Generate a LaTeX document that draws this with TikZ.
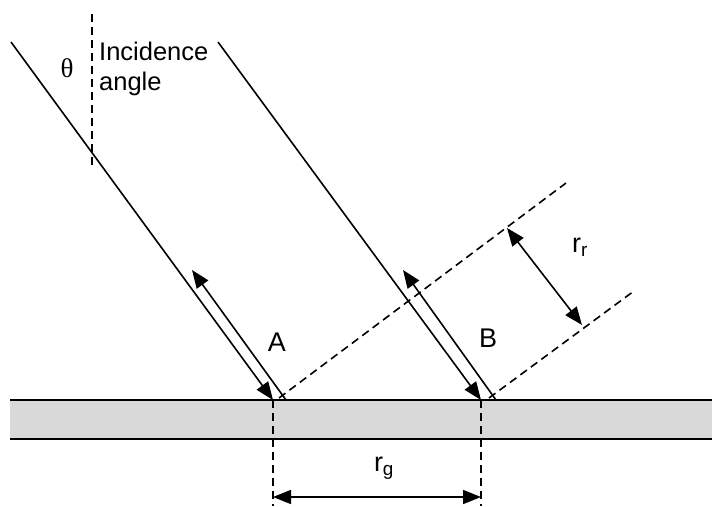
\documentclass[tikz,border=0pt]{standalone}
\usepackage{fontspec}
\setmainfont{Liberation Sans}
\newfontfamily\serifgreek{Liberation Serif}
\usetikzlibrary{arrows.meta}
\begin{document}
\begin{tikzpicture}[x=1pt,y=-1pt,
  ray/.style={line width=1.6pt,black},
  tip/.style={-{Triangle[length=18pt,width=14pt]}},
  dtip/.style={{Triangle[length=18pt,width=14pt]}-{Triangle[length=18pt,width=14pt]}},
  dash line/.style={line width=1.6pt,dash pattern=on 8pt off 5pt},
  lbl/.style={font=\fontsize{27}{30}\selectfont,inner sep=0pt}]
\useasboundingbox (0,0) rectangle (712,506);
% slab
\fill[gray!30] (10,400) rectangle (712,439);
\coordinate (sl1) at (10,400); \coordinate (sr1) at (712,400);
\coordinate (sl2) at (10,439); \coordinate (sr2) at (712,439);
\draw[line width=1.6pt] (sl1) -- (sr1);
\draw[line width=1.6pt] (sl2) -- (sr2);
% points
\coordinate (t1) at (11,42);   \coordinate (a1) at (273,400);
\coordinate (r1s) at (286,400); \coordinate (r1e) at (192,270);
\coordinate (t2) at (218,42);  \coordinate (a2) at (481,400);
\coordinate (r2s) at (496,400); \coordinate (r2e) at (403,270);
\coordinate (d1s) at (279,398); \coordinate (d1e) at (566,183);
\coordinate (d2s) at (489,398); \coordinate (d2e) at (634,291);
\coordinate (rr1) at (507,228); \coordinate (rr2) at (582,325);
\coordinate (v1) at (92,14);   \coordinate (v2) at (92,168);
\coordinate (ga) at (273,506); \coordinate (gb) at (481,506);
\coordinate (g1) at (273,497); \coordinate (g2) at (481,497);
% vertical reference
\draw[dash line] (v1) -- (v2);
% rays
\draw[ray,tip] (t1) -- (a1);
\draw[ray,tip] (r1s) -- (r1e);
\draw[ray,tip] (t2) -- (a2);
\draw[ray,tip] (r2s) -- (r2e);
% wave fronts
\draw[dash line] (d1s) -- (d1e);
\draw[dash line] (d2s) -- (d2e);
\draw[ray,dtip] (rr1) -- (rr2);
% ground spacing
\draw[dash line] (a1) -- (ga);
\draw[dash line] (a2) -- (gb);
\draw[ray,dtip] (g1) -- (g2);
% labels
\node[lbl,font=\serifgreek\fontsize{27}{30}\selectfont] (th) at (67,68) {θ};
\node[lbl,font=\fontsize{25.5}{30}\selectfont,align=left,anchor=north west] (inc) at (99,42) {Incidence\\angle};
\node[lbl] (A) at (277,342) {A};
\node[lbl] (B) at (488,338) {B};
\node[lbl] (rg) at (384,468) {r\textsubscript{g}};
\node[lbl] (rr) at (580,247) {r\textsubscript{r}};
\end{tikzpicture}
\end{document}
